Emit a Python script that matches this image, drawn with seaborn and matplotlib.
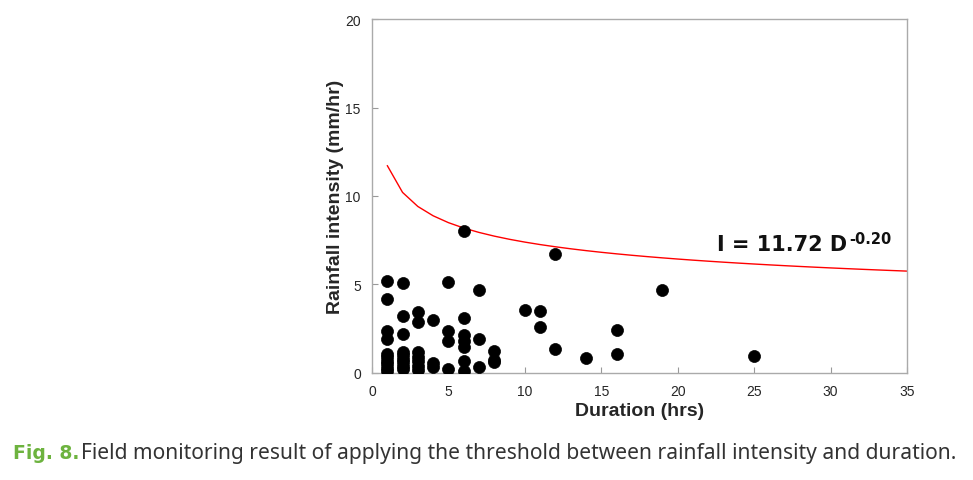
import numpy as np
import pandas as pd
import seaborn as sns
import matplotlib.pyplot as plt

# 현장 모니터링 강우 사상 (지속시간 hrs, 강우강도 mm/hr)
duration = [
    1, 1, 1, 1, 1, 1, 1, 1, 1, 1,
    2, 2, 2, 2, 2, 2, 2, 2, 2,
    3, 3, 3, 3, 3, 3, 3,
    4, 4, 4,
    5, 5, 5, 5,
    6, 6, 6, 6, 6, 6, 6,
    7, 7, 7,
    8, 8, 8,
    10, 11, 11, 12, 12, 14, 16, 16, 19, 25,
]
intensity = [
    5.2, 4.18, 2.39, 1.92, 1.1, 0.9, 0.7, 0.5, 0.3, 0.1,
    5.07, 3.2, 2.2, 1.2, 1.0, 0.8, 0.6, 0.4, 0.2,
    3.43, 2.86, 1.2, 0.9, 0.65, 0.4, 0.15,
    3.0, 0.56, 0.32,
    5.12, 2.35, 1.83, 0.23,
    8.02, 3.09, 2.15, 1.79, 1.45, 0.7, 0.13,
    4.69, 1.92, 0.36,
    1.22, 0.75, 0.6,
    3.57, 3.5, 2.58, 6.72, 1.37, 0.85, 2.43, 1.07, 4.68, 0.94,
]

# 임계강우 곡선 I = 11.72 D^-0.20
coef, expo = 11.72, -0.20
curve_d = list(range(1, 36))

caption = ('Field monitoring result of applying the threshold between '
           'rainfall intensity and duration.')

events = pd.DataFrame({'Duration': duration, 'Intensity': intensity})
threshold = pd.DataFrame({'Duration': curve_d,
                          'Intensity': [coef * d ** expo for d in curve_d]})

sns.set_style('white')
plt.rcParams['font.family'] = ['Liberation Sans', 'DejaVu Sans']

fig = plt.figure(figsize=(9.73, 4.81), dpi=100)
ax = fig.add_axes([0.3823, 0.2225, 0.5499, 0.7359])

sns.lineplot(data=threshold, x='Duration', y='Intensity', color='#ff0000',
             linewidth=1.0, ax=ax)
sns.scatterplot(data=events, x='Duration', y='Intensity', color='black',
                s=75, edgecolor='black', linewidth=0.5, ax=ax, zorder=3)

ax.set_xlim(0, 35)
ax.set_ylim(0, 20)
ax.set_xticks(range(0, 36, 5))
ax.set_yticks(range(0, 21, 5))
ax.tick_params(direction='in', length=4, width=0.8, color='#999999',
               labelsize=10, pad=8, left=True, bottom=True)
for sp in ax.spines.values():
    sp.set_color('#aaaaaa')
    sp.set_linewidth(1.0)

ax.set_xlabel('Duration (hrs)', fontsize=14, fontweight='bold', labelpad=3)
ax.set_ylabel('Rainfall intensity (mm/hr)', fontsize=14, fontweight='bold',
              labelpad=1)

eq = ax.text(22.6, 7.3, 'I = 11.72 D', fontsize=15, fontweight='bold',
             color='#111111', va='center', ha='left', family=['DejaVu Sans'])
ax.annotate('-0.20', xy=(1.0, 1.0), xycoords=eq, xytext=(1, 2),
            textcoords='offset points', fontsize=10.5, fontweight='bold',
            color='#111111', va='top', ha='left', family=['DejaVu Sans'])

fig.text(0.013, 0.045, 'Fig. 8.', color='#6db33f', fontsize=13.5,
         fontweight='bold', family=['DejaVu Sans'], va='baseline')
fig.text(0.0835, 0.045, caption, color='#333333', fontsize=15.1,
         family=['Noto Sans', 'DejaVu Sans'], va='baseline', ha='left')

fig.savefig('out.png', dpi=100)
